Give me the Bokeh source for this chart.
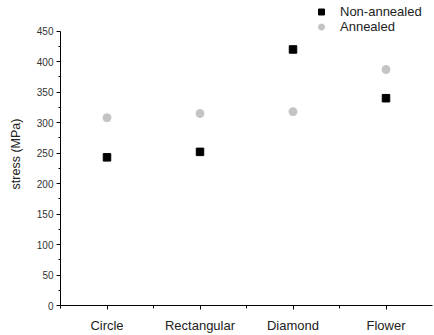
from bokeh.plotting import figure
from bokeh.models import FixedTicker, Range1d, Legend, LegendItem
from bokeh.embed import file_html
from bokeh.resources import INLINE

categories = ["Circle", "Rectangular", "Diamond", "Flower"]
non_annealed = [243, 252, 420, 340]
annealed = [308, 315, 318, 387]
y_ticks = [0, 50, 100, 150, 200, 250, 300, 350, 400, 450]

xs = list(range(1, len(categories) + 1))

p = figure(width=434, height=335, output_backend="svg", toolbar_location=None,
           x_range=Range1d(0.5, len(categories) + 0.5), y_range=Range1d(0, 497),
           min_border_left=60, min_border_right=2, min_border_top=2, min_border_bottom=27)
p.outline_line_color = None
p.xgrid.visible = False
p.ygrid.visible = False

r1 = p.scatter(xs, non_annealed, marker="square", size=7.5, color="black")
r2 = p.scatter(xs, annealed, marker="circle", size=8, color="#c4c4c4")

font = "Liberation Sans"
# x axis
xa = p.xaxis[0]
xa.ticker = FixedTicker(ticks=xs, minor_ticks=[x + 0.5 for x in range(len(categories))])
xa.major_label_overrides = {x: c for x, c in zip(xs, categories)}
xa.major_label_text_font = font
xa.major_label_text_font_size = "13px"
xa.major_label_text_color = "#222222"
xa.major_label_standoff = 8
xa.major_tick_out = 4
xa.major_tick_in = 0
xa.minor_tick_out = 3
xa.minor_tick_in = 0
xa.axis_line_color = "black"

ya = p.yaxis[0]
ya.bounds = (0, 450)
ya.ticker = FixedTicker(ticks=y_ticks, minor_ticks=[t + 25 for t in y_ticks[:-1]])
ya.major_label_text_font = font
ya.major_label_text_font_size = "10px"
ya.major_label_text_color = "#333333"
ya.major_label_standoff = 3
ya.major_tick_out = 4
ya.major_tick_in = 0
ya.minor_tick_out = 2
ya.minor_tick_in = 0
ya.axis_label = "stress (MPa)"
ya.axis_label_text_font = font
ya.axis_label_text_font_size = "12.5px"
ya.axis_label_text_font_style = "normal"
ya.axis_label_text_color = "#222222"
ya.axis_label_standoff = 11

legend = Legend(items=[LegendItem(label="Non-annealed", renderers=[r1]),
                       LegendItem(label="Annealed", renderers=[r2])],
                location=(251, 271), padding=0, margin=0, spacing=0,
                label_height=15, glyph_height=15, glyph_width=20, label_standoff=9,
                label_text_font=font, label_text_font_size="13px",
                label_text_color="#222222",
                border_line_color=None, background_fill_alpha=0)
p.add_layout(legend, "center")

open("out.html", "w").write(file_html(p, INLINE))
